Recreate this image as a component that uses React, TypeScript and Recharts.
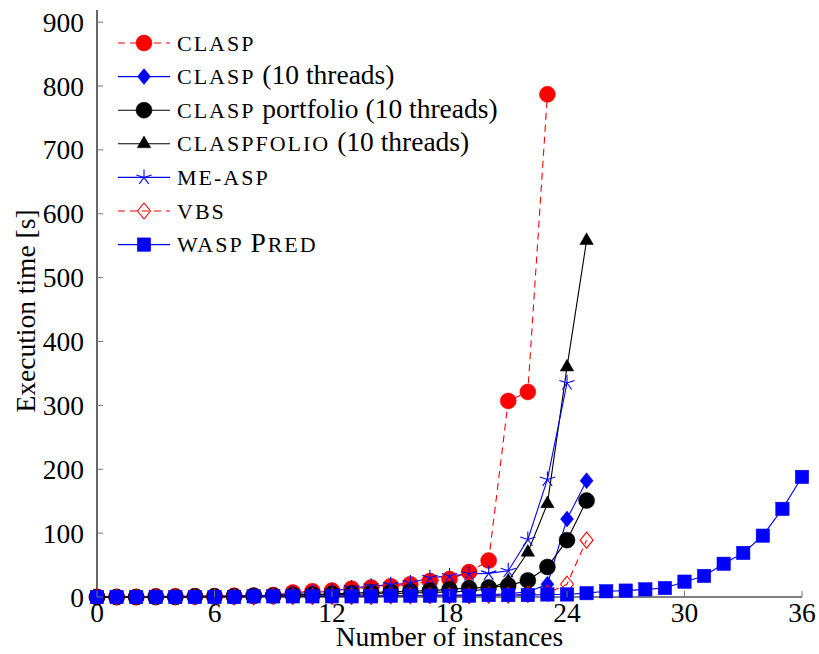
import React from 'react';
import { LineChart, Line, XAxis, YAxis, Legend } from 'recharts';

const instances = [0, 1, 2, 3, 4, 5, 6, 7, 8, 9, 10, 11, 12, 13, 14, 15, 16, 17, 18, 19, 20, 21, 22, 23, 24, 25, 26, 27, 28, 29, 30, 31, 32, 33, 34, 35, 36];
const xTicks = [0, 6, 12, 18, 24, 30, 36];
const yTicks = [0, 100, 200, 300, 400, 500, 600, 700, 800, 900];

const claspTimes = [0, 0, 0, 1, 1, 1, 1, 2, 2, 3, 7, 9, 10, 13, 15, 17, 20, 25, 28, 39, 57, 307, 321, 787];
const clasp10Times = [0, 0, 0, 0, 0, 0, 0, 1, 1, 1, 1, 1, 2, 2, 2, 2, 2, 3, 3, 3, 4, 5, 8, 20, 122, 182];
const portfolioTimes = [0, 0, 0, 0, 0, 1, 1, 1, 2, 2, 3, 4, 5, 6, 7, 8, 9, 10, 12, 14, 15, 18, 26, 47, 89, 151];
const claspfolioTimes = [0, 0, 0, 0, 0, 1, 1, 1, 2, 2, 3, 3, 4, 4, 5, 5, 6, 7, 8, 9, 13, 25, 70, 146, 360, 558];
const measpTimes = [0, 0, 0, 1, 1, 1, 1, 2, 2, 3, 5, 7, 9, 14, 17, 19, 22, 30, 33, 36, 37, 41, 90, 184, 335];
const vbsTimes = [0, 0, 0, 0, 0, 0, 0, 0, 0, 1, 1, 1, 1, 1, 1, 2, 2, 2, 2, 2, 3, 3, 4, 6, 20, 89];
const waspTimes = [0, 0, 0, 0, 0, 0, 0, 0, 1, 1, 1, 1, 1, 1, 1, 2, 2, 2, 2, 2, 3, 3, 3, 4, 4, 6, 9, 10, 12, 14, 24, 33, 52, 69, 96, 138, 188];

const data = instances.map((x, i) => ({
  x,
  clasp: claspTimes[i],
  clasp10: clasp10Times[i],
  portfolio: portfolioTimes[i],
  claspfolio: claspfolioTimes[i],
  measp: measpTimes[i],
  vbs: vbsTimes[i],
  wasp: waspTimes[i],
}));

const RED = '#ff0000';
const BLUE = '#0000ff';
const BLACK = '#000000';
const FONT = '"Liberation Serif", "DejaVu Serif", serif';
const FS = 27.5;

type Kind = 'circle' | 'diamond' | 'triangle' | 'star' | 'odiamond' | 'square';

function markerShape(kind: Kind, color: string, cx: number, cy: number, key?: any) {
  switch (kind) {
    case 'circle':
      return <circle key={key} cx={cx} cy={cy} r={8} fill={color} stroke={color} strokeWidth={0.5} />;
    case 'diamond':
      return (
        <polygon key={key} points={`${cx},${cy - 8} ${cx + 6.5},${cy} ${cx},${cy + 8} ${cx - 6.5},${cy}`} fill={color} stroke={color} strokeWidth={0.5} />
      );
    case 'odiamond':
      return (
        <polygon key={key} points={`${cx},${cy - 8} ${cx + 6.5},${cy} ${cx},${cy + 8} ${cx - 6.5},${cy}`} fill="none" stroke={color} strokeWidth={1.1} />
      );
    case 'triangle': {
      const r = 7.8;
      return (
        <polygon key={key} points={`${cx},${cy - r} ${cx + r * 0.866},${cy + r / 2} ${cx - r * 0.866},${cy + r / 2}`} fill={color} stroke={color} strokeWidth={0.5} />
      );
    }
    case 'square':
      return <rect key={key} x={cx - 6.7} y={cy - 6.7} width={13.4} height={13.4} fill={color} stroke={color} strokeWidth={0.5} />;
    case 'star': {
      const r = 8;
      const arms = [90, 18, -54, -126, -198].map((a) => {
        const rad = (a * Math.PI) / 180;
        return <line key={a} x1={cx} y1={cy} x2={cx + r * Math.cos(rad)} y2={cy - r * Math.sin(rad)} stroke={color} strokeWidth={1.1} />;
      });
      return <g key={key}>{arms}</g>;
    }
  }
  return null;
}

const makeDot = (kind: Kind, color: string) => (props: any) => {
  const { cx, cy, index, value } = props;
  if (cx == null || cy == null || value == null || Number.isNaN(cy)) return <g key={`e${index}`} />;
  return markerShape(kind, color, cx, cy, `d${index}`);
};

type Entry = { kind: Kind; color: string; dashed: boolean; label: React.ReactNode };

const SC = 22;
const LS = 2;
const sc = (s: string) => (
  <tspan fontSize={SC} letterSpacing={LS}>
    {s}
  </tspan>
);
const legendEntries: Entry[] = [
  { kind: 'circle', color: RED, dashed: true, label: sc('CLASP') },
  { kind: 'diamond', color: BLUE, dashed: false, label: <>{sc('CLASP')}<tspan> (10 threads)</tspan></> },
  { kind: 'circle', color: BLACK, dashed: false, label: <>{sc('CLASP')}<tspan> portfolio (10 threads)</tspan></> },
  { kind: 'triangle', color: BLACK, dashed: false, label: <>{sc('CLASPFOLIO')}<tspan> (10 threads)</tspan></> },
  { kind: 'star', color: BLUE, dashed: false, label: sc('ME-ASP') },
  { kind: 'odiamond', color: RED, dashed: true, label: sc('VBS') },
  { kind: 'square', color: BLUE, dashed: false, label: <>{sc('WASP ')}<tspan letterSpacing={LS}>P</tspan>{sc('RED')}</> },
];

const LegendContent = () => {
  const rowH = 33.6;
  return (
    <svg width={440} height={rowH * 7 + 10} style={{ display: 'block', overflow: 'visible' }}>
      {legendEntries.map((e, i) => {
        const cy = 20 + i * rowH;
        return (
          <g key={i}>
            <line x1={10} y1={cy} x2={62} y2={cy} stroke={e.color} strokeWidth={1.1} strokeDasharray={e.dashed ? '7 5' : undefined} />
            {markerShape(e.kind, e.color, 36, cy)}
            <text x={69} y={cy + 7.5} fontFamily={FONT} fontSize={FS} fill="#000">
              {e.label}
            </text>
          </g>
        );
      })}
    </svg>
  );
};

const BottomTick = (props: any) => {
  const { x, y, payload } = props;
  return (
    <g>
      <line x1={x} y1={y} x2={x} y2={y - 6} stroke="#777" strokeWidth={1} />
      <text x={x} y={y + 25} textAnchor="middle" fontFamily={FONT} fontSize={FS} fill="#000">
        {payload.value}
      </text>
    </g>
  );
};
const TopTick = (props: any) => {
  const { x, y } = props;
  return <line x1={x} y1={y} x2={x} y2={y + 6} stroke="#777" strokeWidth={1} />;
};
const LeftTick = (props: any) => {
  const { x, y, payload } = props;
  return (
    <g>
      <line x1={x} y1={y} x2={x + 6} y2={y} stroke="#777" strokeWidth={1} />
      <text x={x - 13} y={y + 9.5} textAnchor="end" fontFamily={FONT} fontSize={FS} fill="#000">
        {payload.value}
      </text>
    </g>
  );
};
const RightTick = (props: any) => {
  const { x, y } = props;
  return <line x1={x} y1={y} x2={x - 6} y2={y} stroke="#777" strokeWidth={1} />;
};

const XLabel = (props: any) => {
  const vb = props.viewBox;
  return (
    <text x={vb.x + vb.width / 2} y={vb.y + 49} textAnchor="middle" fontFamily={FONT} fontSize={FS} fill="#000">
      Number of instances
    </text>
  );
};
const YLabel = () => {
  return (
    <text x={0} y={0} transform="translate(35,311) rotate(-90)" textAnchor="middle" fontFamily={FONT} fontSize={FS} fill="#000">
      Execution time [s]
    </text>
  );
};

export default function App() {
  return (
    <div style={{ position: 'absolute', left: 0, top: 0, width: 819, height: 654 }}>
      <LineChart width={819} height={654} data={data} margin={{ top: 10, right: 17, bottom: 0, left: 0 }} style={{ overflow: 'visible' }}>
        <XAxis
          dataKey="x"
          type="number"
          domain={[0, 36]}
          ticks={xTicks}
          height={57}
          tickSize={0}
          tickMargin={0}
          tickLine={false}
          axisLine={{ stroke: '#000', strokeWidth: 1.2 }}
          tick={<BottomTick />}
          label={<XLabel />}
        />
        <XAxis
          xAxisId="top"
          orientation="top"
          dataKey="x"
          type="number"
          domain={[0, 36]}
          ticks={xTicks}
          height={0}
          tickSize={0}
          tickMargin={0}
          tickLine={false}
          axisLine={{ stroke: '#000', strokeWidth: 1.2 }}
          tick={<TopTick />}
        />
        <YAxis
          type="number"
          domain={[0, 919]}
          ticks={yTicks}
          width={97}
          tickSize={0}
          tickMargin={0}
          tickLine={false}
          axisLine={{ stroke: '#000', strokeWidth: 1.2 }}
          tick={<LeftTick />}
          label={<YLabel />}
        />
        <YAxis
          yAxisId="right"
          orientation="right"
          type="number"
          domain={[0, 919]}
          ticks={yTicks}
          width={0}
          tickSize={0}
          tickMargin={0}
          tickLine={false}
          axisLine={{ stroke: '#000', strokeWidth: 1.2 }}
          tick={<RightTick />}
        />
        <Legend
          layout="vertical"
          align="center"
          verticalAlign="middle"
          content={<LegendContent />}
          wrapperStyle={{ left: 108, top: 23, width: 440, height: 250 }}
        />
        <Line dataKey="clasp" stroke={RED} strokeWidth={1.1} strokeDasharray="7 5" dot={makeDot('circle', RED)} activeDot={false} isAnimationActive={false} />
        <Line dataKey="clasp10" stroke={BLUE} strokeWidth={1.1} dot={makeDot('diamond', BLUE)} activeDot={false} isAnimationActive={false} />
        <Line dataKey="portfolio" stroke={BLACK} strokeWidth={1.1} dot={makeDot('circle', BLACK)} activeDot={false} isAnimationActive={false} />
        <Line dataKey="claspfolio" stroke={BLACK} strokeWidth={1.1} dot={makeDot('triangle', BLACK)} activeDot={false} isAnimationActive={false} />
        <Line dataKey="measp" stroke={BLUE} strokeWidth={1.1} dot={makeDot('star', BLUE)} activeDot={false} isAnimationActive={false} />
        <Line dataKey="vbs" stroke={RED} strokeWidth={1.1} strokeDasharray="7 5" dot={makeDot('odiamond', RED)} activeDot={false} isAnimationActive={false} />
        <Line dataKey="wasp" stroke={BLUE} strokeWidth={1.1} dot={makeDot('square', BLUE)} activeDot={false} isAnimationActive={false} />
      </LineChart>
    </div>
  );
}
